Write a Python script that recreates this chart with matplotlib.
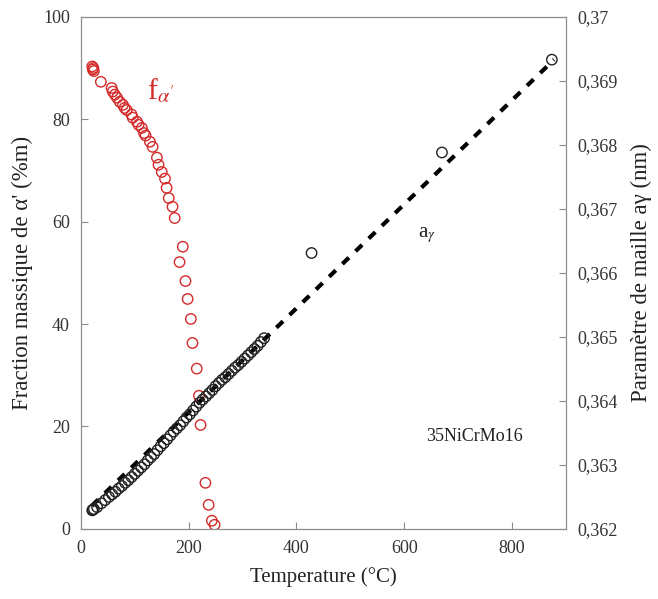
import numpy as np
import matplotlib
matplotlib.use("Agg")
from matplotlib import pyplot as plt
from matplotlib.ticker import FuncFormatter

plt.rcParams["font.family"] = ["Liberation Serif", "DejaVu Serif"]
plt.rcParams["mathtext.fontset"] = "stix"

# fraction of alpha' (left axis, red)
temp_f = [21, 22, 23, 24, 37, 57, 59, 63, 67, 72, 78, 81, 85, 94, 96, 104, 107, 113,
          117, 120, 128, 133, 141, 144, 150, 156, 159, 163, 170, 174, 183, 189, 194,
          198, 204, 207, 215, 219, 222, 231, 237, 243, 248]
frac_alpha = [90.3, 89.7, 90.0, 89.4, 87.3, 86.1, 85.4, 84.8, 84.2, 83.4, 82.8, 82.2,
              81.8, 80.9, 80.3, 79.5, 78.9, 78.3, 77.3, 76.8, 75.6, 74.6, 72.5, 71.1,
              69.7, 68.4, 66.6, 64.6, 62.9, 60.7, 52.1, 55.1, 48.4, 44.9, 41.0, 36.3,
              31.3, 26.0, 20.3, 9.0, 4.7, 1.6, 0.8]

# lattice parameter of austenite (right axis, black)
temp_a = [21, 22, 24, 30, 38, 45, 52, 58, 64, 70, 76, 82, 88, 94, 100, 106, 112, 118,
          124, 130, 136, 142, 148, 154, 160, 166, 172, 178, 184, 190, 196, 202, 208,
          214, 220, 226, 232, 238, 244, 250, 256, 262, 268, 274, 280, 286, 292, 298,
          304, 310, 316, 322, 328, 334, 340, 428, 670, 874]
param_a = [0.36229, 0.36230, 0.36231, 0.36234, 0.36240, 0.36245, 0.36250, 0.36254,
           0.36258, 0.36263, 0.36267, 0.36272, 0.36276, 0.36281, 0.36286, 0.36291,
           0.36296, 0.36301, 0.36307, 0.36312, 0.36317, 0.36323, 0.36329, 0.36334,
           0.36340, 0.36346, 0.36352, 0.36357, 0.36362, 0.36368, 0.36374, 0.36379,
           0.36385, 0.36391, 0.36397, 0.36402, 0.36407, 0.36412, 0.36417, 0.36423,
           0.36428, 0.36433, 0.36437, 0.36442, 0.36447, 0.36452, 0.36456, 0.36461,
           0.36466, 0.36471, 0.36476, 0.36481, 0.36486, 0.36492, 0.36498,
           0.36631, 0.36788, 0.36933]

# linear fit drawn as dashed line
fit_temp = [20, 878]
fit_a = [0.36236, 0.36933]

grey = "#8c8c8c"
txt = "#333333"

fig = plt.figure(figsize=(6.58, 5.99), dpi=100)
ax = fig.add_axes([0.123, 0.117, 0.737, 0.855])
ax2 = ax.twinx()

ax.scatter(temp_f, frac_alpha, s=56, facecolors="none", edgecolors="#d42a2a",
           linewidths=1.0, zorder=3)
ax2.plot(fit_temp, fit_a, color="black", lw=3, ls=(0, (2.2, 2.2)), zorder=2)
ax2.scatter(temp_a, param_a, s=56, facecolors="none", edgecolors="#222222",
            linewidths=1.0, zorder=3)

ax.set_xlim(0, 900)
ax.set_ylim(0, 100)
ax2.set_ylim(0.362, 0.370)
ax.set_xticks([0, 200, 400, 600, 800])
ax.set_yticks([0, 20, 40, 60, 80, 100])
ax2.set_yticks(np.arange(0.362, 0.3705, 0.001))
ax2.yaxis.set_major_formatter(FuncFormatter(lambda v, p: ("%g" % round(v, 3)).replace(".", ",")))

for a in (ax, ax2):
    for s in a.spines.values():
        s.set_color(grey)
    a.tick_params(direction="in", length=5, color=grey, labelsize=13, labelcolor=txt, pad=8)

ax.set_xlabel("Temperature (°C)", fontsize=15, color="#222222", labelpad=7)
ax.set_ylabel("Fraction massique de α' (%m)", fontsize=16.5, color="#222222", labelpad=7)
ax2.set_ylabel("Paramètre de maille aγ (nm)", fontsize=16.5, color="#222222", labelpad=10)

ax.text(122, 84, r"f$_{\alpha'}$", color="#d42a2a", fontsize=21)
ax.text(626, 57, r"a$_{\gamma}$", color="#222222", fontsize=15)
ax.text(730, 18, "35NiCrMo16", color="#222222", fontsize=13, ha="center", va="center")

fig.savefig("out.png", dpi=100)
